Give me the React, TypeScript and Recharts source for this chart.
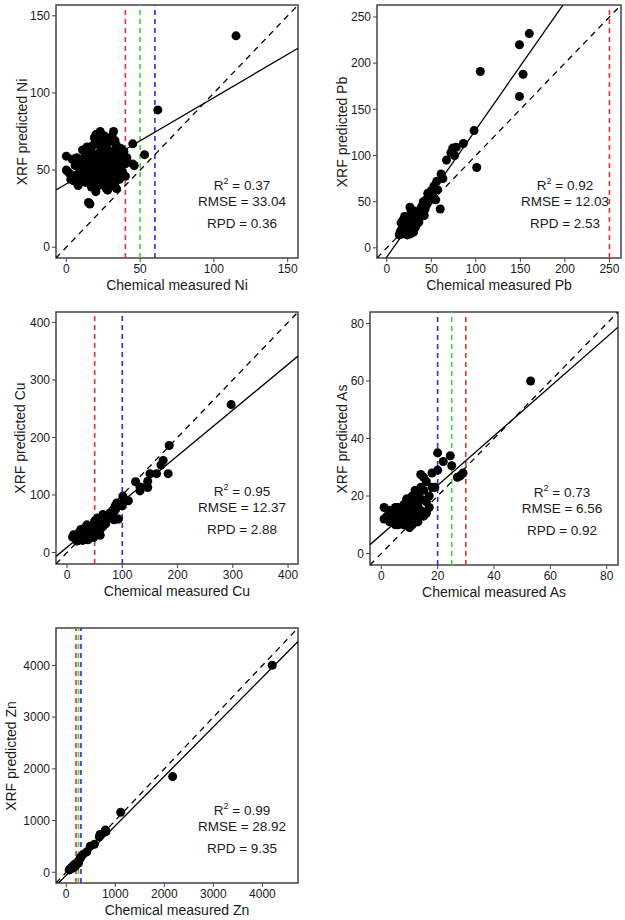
import { ScatterChart, Scatter, XAxis, YAxis, ZAxis, ReferenceLine, ReferenceArea } from "recharts";

const niPoints: [number, number][] = [
  [0, 59], [0, 50], [1, 49], [3, 44], [5, 43], [2, 48], [6, 53], [8, 40], [10, 44], [15, 29],
  [16, 28], [20, 36], [23, 75], [32, 75], [33, 69], [45, 67], [53, 60], [45, 54], [46, 53], [62, 89],
  [115, 137], [14, 65], [19, 71], [29, 70], [37, 64], [38, 55], [35, 47], [31, 40], [27, 38], [13, 42],
  [4, 57], [7, 58], [9, 51], [10, 55], [11, 47], [12, 52], [12, 58], [13, 61], [14, 48], [15, 54],
  [15, 45], [16, 50], [16, 57], [17, 62], [17, 44], [18, 52], [18, 47], [18, 66], [19, 56], [19, 41],
  [20, 49], [20, 60], [21, 53], [21, 45], [21, 67], [22, 57], [22, 50], [22, 40], [23, 62], [23, 47],
  [24, 54], [24, 43], [24, 70], [25, 59], [25, 50], [25, 65], [26, 46], [26, 55], [27, 61], [27, 42],
  [28, 52], [28, 67], [29, 48], [29, 57], [30, 62], [30, 44], [31, 53], [31, 72], [32, 58], [32, 48],
  [33, 63], [33, 42], [34, 55], [34, 66], [35, 51], [36, 60], [36, 44], [37, 57], [38, 49], [39, 62],
  [40, 54], [41, 58], [40, 46], [26, 72], [20, 73], [23, 66], [17, 39], [11, 63], [9, 45], [7, 47],
  [28, 37], [34, 38],
];
const pbPoints: [number, number][] = [
  [160, 232], [149, 220], [153, 188], [149, 164], [105, 191], [98, 127], [101, 87], [86, 113], [78, 109], [74, 108],
  [72, 103], [76, 100], [67, 95], [60, 42], [61, 80], [63, 75], [56, 72], [53, 67], [50, 62], [48, 57],
  [46, 59], [44, 52], [42, 48], [40, 46], [38, 42], [36, 28], [38, 36], [35, 38], [33, 36], [31, 34],
  [30, 30], [28, 33], [27, 28], [26, 44], [25, 24], [24, 26], [23, 22], [22, 30], [21, 18], [20, 20],
  [19, 16], [18, 24], [17, 15], [16, 19], [15, 17], [14, 14], [16, 27], [18, 30], [20, 34], [22, 25],
  [24, 18], [26, 15], [28, 20], [29, 25], [30, 17], [32, 22], [34, 26], [36, 31], [39, 44], [41, 50],
  [43, 42], [45, 47], [47, 50], [49, 53], [52, 56], [55, 52], [57, 63], [23, 14], [25, 32], [27, 38],
  [19, 22], [21, 27], [31, 40], [33, 30], [42, 35],
];
const cuPoints: [number, number][] = [
  [297, 257], [185, 186], [174, 160], [170, 152], [183, 137], [162, 137], [150, 137], [146, 124], [146, 113], [132, 114],
  [132, 107], [124, 123], [111, 90], [101, 98], [103, 89], [100, 81], [90, 86], [87, 81], [93, 58], [78, 69],
  [72, 64], [68, 58], [65, 66], [62, 52], [58, 56], [55, 60], [52, 48], [50, 55], [47, 42], [45, 38],
  [42, 45], [40, 36], [38, 32], [36, 48], [34, 40], [32, 30], [30, 36], [28, 28], [26, 33], [24, 25],
  [22, 30], [20, 27], [18, 24], [16, 28], [14, 26], [10, 27], [12, 31], [25, 40], [30, 22], [35, 25],
  [40, 28], [45, 30], [50, 34], [55, 37], [60, 40], [65, 45], [70, 50], [75, 60], [80, 62], [85, 70],
  [88, 75], [27, 38], [33, 44], [38, 22], [43, 34], [48, 26], [53, 45], [18, 20], [22, 35], [28, 21],
  [60, 30], [85, 57],
];
const asPoints: [number, number][] = [
  [53, 60], [20, 35], [20, 29], [22, 32], [24.5, 34], [25, 30.5], [28, 27], [29, 28], [27, 26.5], [18, 28],
  [18, 23], [14, 27.5], [15, 26.5], [17, 16], [1, 16], [1, 12], [3, 11], [4, 14], [5, 10], [5, 16],
  [6, 13], [7, 12], [7, 15], [8, 10], [8, 17], [9, 14], [9, 19], [10, 9], [10, 12], [10, 16],
  [11, 15], [11, 20], [12, 13], [12, 18], [13, 11], [13, 21], [14, 15], [14, 19], [15, 13], [15, 22],
  [16, 18], [16, 14], [17, 20], [12, 16], [10, 18], [9, 11], [8, 13], [11, 10], [13, 17], [6, 10],
  [4, 12], [2, 13], [14, 23], [16, 25], [19, 23], [12, 22], [6, 16], [3, 15],
];
const znPoints: [number, number][] = [
  [4200, 4005], [2170, 1850], [1110, 1160], [800, 815], [810, 785], [690, 730], [675, 685], [575, 540], [490, 505], [420, 395],
  [350, 350], [285, 265], [300, 300], [260, 230], [240, 200], [220, 180], [200, 170], [180, 150], [160, 140], [140, 120],
  [120, 100], [110, 90], [100, 80], [90, 70], [80, 60], [70, 50], [60, 45], [150, 100], [130, 80], [180, 110],
  [200, 140], [250, 180],
];

const elements = ["Ni", "Pb", "Cu", "As", "Zn"];
const r2 = ["0.37", "0.92", "0.95", "0.73", "0.99"];
const rmse = ["33.04", "12.03", "12.37", "6.56", "28.92"];
const rpd = ["0.36", "2.53", "2.88", "0.92", "9.35"];
const slopes = [0.56, 1.38, 0.795, 0.86, 0.957];
const intercepts = [41, -10, 9, 6.5, -58];

const niTicks = [0, 50, 100, 150];
const pbTicks = [0, 50, 100, 150, 200, 250];
const cuTicks = [0, 100, 200, 300, 400];
const asTicks = [0, 20, 40, 60, 80];
const znTicks = [0, 1000, 2000, 3000, 4000];

// guideline values (dashed verticals)
const niLimits = [40, 50, 60];
const pbLimits = [250];
const cuLimits = [50, 100];
const asLimits = [20, 25, 30];
const znLimits = [200, 250, 300];

const RED = "#e8322e";
const GREEN = "#35d935";
const BLUE = "#2b2bd9";
const FONT = '"Liberation Sans", Arial, sans-serif';

interface PanelProps {
  idx: number;
  points: [number, number][];
  domain: [number, number];
  ticks: number[];
  limits: number[];
  limitColors: string[];
  left: number;
  top: number;
  width: number;
  height: number;
  mTop: number;
  mRight: number;
  yWidth: number;
  xHeight: number;
  yTitleX: number;
}

const Panel = ({ idx, points, domain, ticks, limits, limitColors, left, top, width, height, mTop, mRight, yWidth, xHeight, yTitleX }: PanelProps) => {
  const el = elements[idx];
  const data = points.map(([x, y]) => ({ x, y }));
  const [d0, d1] = domain;
  const a = intercepts[idx];
  const b = slopes[idx];
  const boxRight = width - mRight;
  const boxBottom = height - xHeight;
  const boxMid = (mTop + boxBottom) / 2;
  const statX = boxRight - 56;
  const tickStyle = { fontSize: 12, fill: "#1a1a1a", fontFamily: FONT };

  return (
    <div style={{ position: "absolute", left, top, width, height, fontFamily: FONT, color: "#1a1a1a" }}>
      <ScatterChart width={width} height={height} margin={{ top: mTop, right: mRight, bottom: 0, left: 0 }}>
        <XAxis
          type="number"
          dataKey="x"
          domain={domain}
          ticks={ticks}
          allowDataOverflow
          axisLine={false}
          tickSize={4}
          tickLine={{ stroke: "#444" }}
          tick={tickStyle}
          height={xHeight}
          interval={0}
        />
        <YAxis
          type="number"
          dataKey="y"
          domain={domain}
          ticks={ticks}
          allowDataOverflow
          axisLine={false}
          tickSize={4}
          tickLine={{ stroke: "#444" }}
          tick={tickStyle}
          width={yWidth}
          interval={0}
        />
        <ZAxis range={[62, 62]} />
        <ReferenceArea x1={d0} x2={d1} y1={d0} y2={d1} fill="none" stroke="#444" strokeWidth={1.5} ifOverflow="visible" />
        <Scatter data={data} fill="#000" isAnimationActive={false} />
        {limits.map((v, i) => (
          <ReferenceLine key={v} x={v} stroke={limitColors[i]} strokeWidth={1.6} strokeDasharray="5 4" />
        ))}
        <ReferenceLine
          segment={[{ x: d0, y: d0 }, { x: d1, y: d1 }]}
          stroke="#000"
          strokeWidth={1.3}
          strokeDasharray="6 5"
          ifOverflow="hidden"
        />
        <ReferenceLine
          segment={[{ x: d0, y: a + b * d0 }, { x: d1, y: a + b * d1 }]}
          stroke="#000"
          strokeWidth={1.3}
          ifOverflow="hidden"
        />
      </ScatterChart>

      <div style={{ position: "absolute", left: yWidth, width: boxRight - yWidth, top: boxBottom + 19, textAlign: "center", fontSize: 14, lineHeight: "16px" }}>
        Chemical measured {el}
      </div>
      <div
        style={{
          position: "absolute",
          left: yTitleX - 100,
          top: boxMid - 8,
          width: 200,
          textAlign: "center",
          fontSize: 14,
          lineHeight: "16px",
          transform: "rotate(-90deg)",
        }}
      >
        XRF predicted {el}
      </div>
      {[
        <>R<sup style={{ fontSize: 9 }}>2</sup> = {r2[idx]}</>,
        <>RMSE = {rmse[idx]}</>,
        <>RPD = {rpd[idx]}</>,
      ].map((t, i) => (
        <div
          key={i}
          style={{
            position: "absolute",
            left: statX - 60,
            width: 120,
            top: boxBottom - [77, 56, 34][i] - 8,
            textAlign: "center",
            fontSize: 13.5,
            lineHeight: "16px",
          }}
        >
          {t}
        </div>
      ))}
    </div>
  );
};

export default function App() {
  return (
    <div style={{ position: "absolute", left: 0, top: 0, width: 625, height: 920, background: "#fff" }}>
      <Panel idx={0} points={niPoints} domain={[-7, 157]} ticks={niTicks} limits={niLimits} limitColors={[RED, GREEN, BLUE]}
        left={0} top={0} width={310} height={300} mTop={5} mRight={12} yWidth={56} xHeight={42} yTitleX={22} />
      <Panel idx={1} points={pbPoints} domain={[-11, 263]} ticks={pbTicks} limits={pbLimits} limitColors={[RED]}
        left={312} top={0} width={313} height={300} mTop={5} mRight={4} yWidth={65} xHeight={42} yTitleX={30} />
      <Panel idx={2} points={cuPoints} domain={[-20, 418]} ticks={cuTicks} limits={cuLimits} limitColors={[RED, BLUE]}
        left={0} top={300} width={310} height={300} mTop={12} mRight={12} yWidth={56} xHeight={36} yTitleX={20} />
      <Panel idx={3} points={asPoints} domain={[-4, 84]} ticks={asTicks} limits={asLimits} limitColors={[BLUE, GREEN, RED]}
        left={312} top={300} width={313} height={300} mTop={12} mRight={7} yWidth={58} xHeight={35} yTitleX={30} />
      <Panel idx={4} points={znPoints} domain={[-208, 4725]} ticks={znTicks} limits={znLimits} limitColors={[RED, GREEN, BLUE]}
        left={0} top={610} width={310} height={310} mTop={18} mRight={12} yWidth={56} xHeight={37} yTitleX={11} />
    </div>
  );
}
